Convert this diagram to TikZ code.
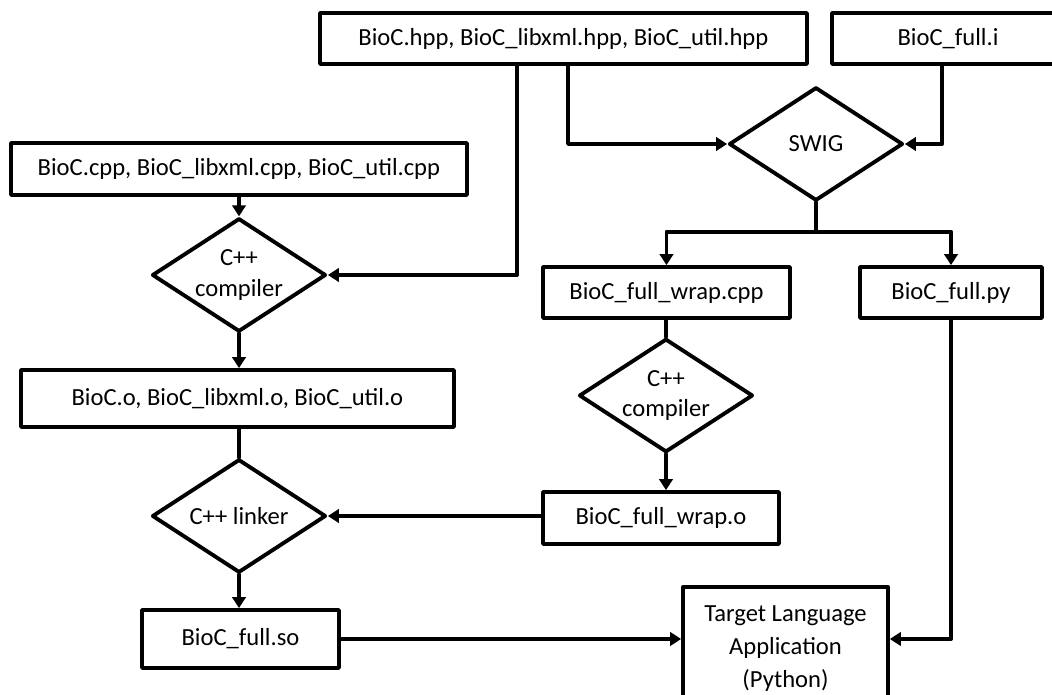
\documentclass[tikz,border=0pt]{standalone}
\usepackage{fontspec}
\setmainfont{Carlito}
\usetikzlibrary{shapes.geometric}
\usetikzlibrary{arrows.meta}
\tikzstyle{every node}=[font=\fontsize{14}{17.6}\selectfont]
\tikzstyle{filebox}=[draw,rectangle,inner sep=0pt,minimum height=1.02cm]
\tikzstyle{toolbox}=[draw,diamond,shape aspect=1.5,inner sep=0pt,align=center,minimum width=3.48cm,minimum height=2.27cm]
\tikzstyle{arrowline}=[-{Triangle[length=0.22cm,width=0.27cm]}]

\begin{document}
\begin{tikzpicture}[x=0.02cm,y=-0.02cm,line width=2.2pt,line cap=round,line join=round]
  \useasboundingbox (0,0) rectangle (1052,695);
  \clip (0,0) rectangle (1052,695);
  % sources and headers
  \node[filebox,minimum width=9.74cm] (hpp) at (563.5,38.5) {BioC.hpp, BioC\_libxml.hpp, BioC\_util.hpp};
  \node[filebox,minimum width=4.64cm] (fulli) at (948,38.5) {BioC\_full.i};
  \node[filebox,minimum width=9.12cm,minimum height=1.04cm] (cpp) at (239,169) {BioC.cpp, BioC\_libxml.cpp, BioC\_util.cpp};
  % left column
  \node[toolbox] (comp1) at (239,275) {C++\\compiler};
  \node[filebox,minimum width=8.66cm,minimum height=1.14cm] (objs) at (237.5,398.5) {BioC.o, BioC\_libxml.o, BioC\_util.o};
  \node[toolbox] (link) at (239,516) {C++ linker};
  \node[filebox,minimum width=3.94cm,minimum height=1.16cm] (so) at (240.5,639) {BioC\_full.so};
  % right column
  \node[toolbox] (swig) at (816,144) {SWIG};
  \node[filebox,minimum width=4.94cm] (wrapcpp) at (666.5,292.5) {BioC\_full\_wrap.cpp};
  \node[filebox,minimum width=3.64cm] (py) at (951,292.5) {BioC\_full.py};
  \node[toolbox] (comp2) at (666,395.5) {C++\\compiler};
  \node[filebox,minimum width=4.72cm,minimum height=1.04cm] (wrapo) at (661,518) {BioC\_full\_wrap.o};
  \node[draw,rectangle,anchor=north,align=center,minimum width=4.1cm,inner xsep=0pt,inner ysep=0.38cm,
        font=\fontsize{14}{18.7}\selectfont] (tla) at (785.5,585) {Target Language\\Application\\(Python)};

  \draw[arrowline] (cpp) -- (comp1);
  \draw[arrowline] ([xshift=-0.93cm]hpp.south) |- (comp1.east);
  \draw[arrowline] ([xshift=0.09cm]hpp.south) |- (swig.west);
  \draw[arrowline] ([xshift=-0.12cm]fulli.south) |- (swig.east);
  \draw[arrowline] (comp1.south) -- (comp1.south |- objs.north);
  \draw (link.north |- objs.south) -- (link.north);
  \draw[arrowline] (link.south) -- (link.south |- so.north);
  \draw[arrowline] (swig.south) -- ++(0,29) -| (wrapcpp.north);
  \draw[arrowline] (swig.south) -- ++(0,29) -| (py.north);
  \draw (comp2.north |- wrapcpp.south) -- (comp2.north);
  \draw[arrowline] (comp2.south) -- (comp2.south |- wrapo.north);
  \draw[arrowline] (wrapo.west |- link) -- (link.east);
  \draw[arrowline] (so) -- (so -| tla.west);
  \draw[arrowline] (py.south) |- (so -| tla.east);
\end{tikzpicture}
\end{document}
